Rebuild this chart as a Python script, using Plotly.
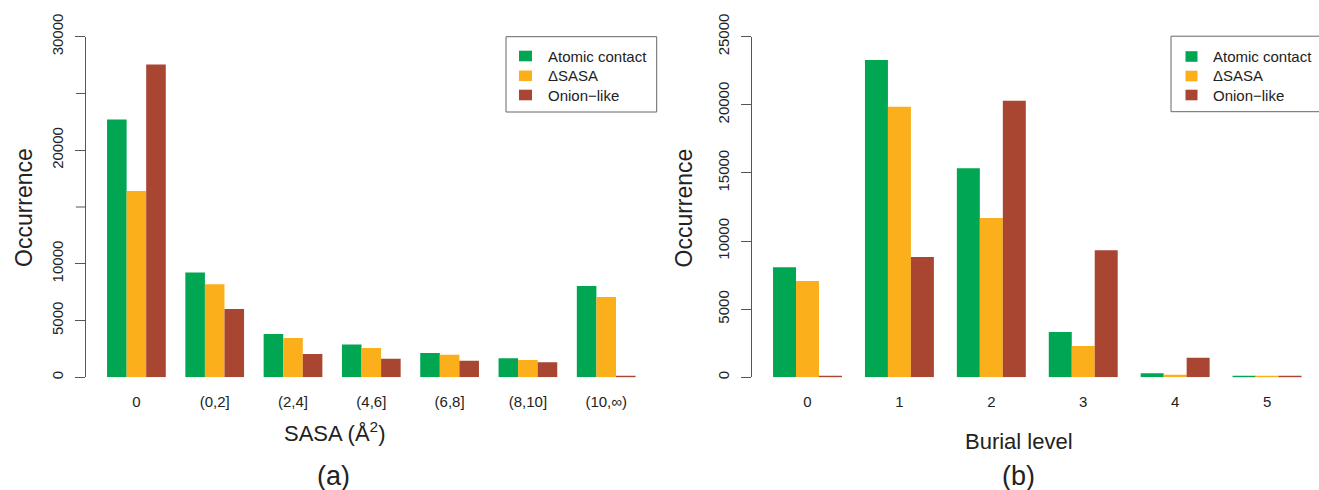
import plotly.graph_objects as go
from plotly.subplots import make_subplots

# Series names and colours
series_names = ["Atomic contact", "\u0394SASA", "Onion\u2212like"]
series_colors = ["#00A651", "#FAAF1B", "#A84631"]

# Panel (a): occurrence per SASA bin
sasa_bins = ["0", "(0,2]", "(2,4]", "(4,6]", "(6,8]", "(8,10]", "(10,\u221e)"]
atomic_sasa = [22700, 9220, 3810, 2900, 2140, 1670, 8040]
dsasa_sasa = [16400, 8190, 3460, 2580, 1990, 1520, 7070]
onion_sasa = [27550, 6010, 2050, 1640, 1460, 1320, 60]

# Panel (b): occurrence per burial level
burial_levels = ["0", "1", "2", "3", "4", "5"]
atomic_burial = [8080, 23290, 15350, 3330, 300, 95]
dsasa_burial = [7070, 19860, 11690, 2300, 190, 70]
onion_burial = [50, 8830, 20300, 9320, 1440, 90]

# Y ticks: labelled ticks plus unlabelled ones in panel (a)
ticks_a = [0, 5000, 10000, 20000, 30000]
ticklabels_a = ["0", "5000", "10000", "20000", "30000"]
unlabelled_ticks_a = [15000, 25000]
ticks_b = [0, 5000, 10000, 15000, 20000, 25000]
ticklabels_b = ["0", "5000", "10000", "15000", "20000", "25000"]

W, H = 1319, 490
FONT = "Liberation Sans, Arial, Helvetica, sans-serif"
TXT = "#222222"
LINE = "#555555"
AXIS_A_X = 85.9
TICK_LEN = 10


def px_x(v):
    return v / W


def px_y(v):
    return 1 - v / H


fig = make_subplots(rows=1, cols=2)

panel_a = [atomic_sasa, dsasa_sasa, onion_sasa]
panel_b = [atomic_burial, dsasa_burial, onion_burial]
for name, color, ya, yb in zip(series_names, series_colors, panel_a, panel_b):
    fig.add_trace(go.Bar(x=sasa_bins, y=ya, name=name, marker_color=color,
                         marker_line_width=0, showlegend=False), row=1, col=1)
    fig.add_trace(go.Bar(x=burial_levels, y=yb, name=name, marker_color=color,
                         marker_line_width=0, showlegend=False), row=1, col=2)

y_bottom = px_y(377.3)
y_top = px_y(36.7)

common_y = dict(showgrid=False, zeroline=False, showline=True, linecolor=LINE,
                linewidth=1, ticks="outside", ticklen=TICK_LEN, tickcolor=LINE,
                tickangle=-90, tickfont=dict(size=15, color=TXT, family=FONT),
                ticklabelstandoff=6, domain=[y_bottom, y_top])
common_x = dict(showgrid=False, zeroline=False, showline=False, ticks="",
                tickfont=dict(size=15, color=TXT, family=FONT),
                ticklabelstandoff=14)

fig.update_layout(
    xaxis=dict(common_x, domain=[px_x(AXIS_A_X), px_x(656.7)], range=[-0.645, 6.645]),
    xaxis2=dict(common_x, domain=[px_x(751.9), 1.0], range=[-0.605, 5.565]),
    yaxis=dict(common_y, range=[0, 30000], tickmode="array", tickvals=ticks_a,
               ticktext=ticklabels_a),
    yaxis2=dict(common_y, range=[0, 25000], tickmode="array", tickvals=ticks_b,
                ticktext=ticklabels_b),
)

# Unlabelled tick marks on the panel (a) y axis
for v in unlabelled_ticks_a:
    fig.add_shape(type="line", xref="paper", yref="y",
                  x0=px_x(AXIS_A_X - TICK_LEN), x1=px_x(AXIS_A_X), y0=v, y1=v,
                  line=dict(color=LINE, width=1))

# Legend boxes drawn as shapes and text, one per panel
legend_specs = [
    dict(x0=506, x1=656.7, y0=36.7, y1=112, sq0=519, sq1=532, text_x=545.5,
         rows=[56, 75.8, 95]),
    dict(x0=1171, x1=1323, y0=36.2, y1=111.7, sq0=1185.5, sq1=1197.5,
         text_x=1211, rows=[56.5, 76, 95]),
]
for spec in legend_specs:
    fig.add_shape(type="rect", xref="paper", yref="paper",
                  x0=px_x(spec["x0"]), x1=px_x(spec["x1"]),
                  y0=px_y(spec["y1"]), y1=px_y(spec["y0"]),
                  line=dict(color="#666666", width=1), fillcolor="white",
                  layer="above")
    for name, color, row in zip(series_names, series_colors, spec["rows"]):
        fig.add_shape(type="rect", xref="paper", yref="paper",
                      x0=px_x(spec["sq0"]), x1=px_x(spec["sq1"]),
                      y0=px_y(row + 5.3), y1=px_y(row - 5.3),
                      line=dict(width=0), fillcolor=color, layer="above")
        fig.add_annotation(text=name, x=px_x(spec["text_x"]), y=px_y(row),
                           xref="paper", yref="paper", xanchor="left",
                           yanchor="middle", showarrow=False,
                           font=dict(size=15, color=TXT, family=FONT))

annotations = [
    dict(text="Occurrence", x=23.5, y=207.5, textangle=-90, size=23),
    dict(text="Occurrence", x=683, y=207.5, textangle=-90, size=23),
    dict(text="SASA (\u00c5<sup>2</sup>)", x=334, y=432, textangle=0, size=22),
    dict(text="Burial level", x=1018.5, y=441, textangle=0, size=22),
    dict(text="(a)", x=333.7, y=475.5, textangle=0, size=27),
    dict(text="(b)", x=1018.4, y=475.5, textangle=0, size=27),
]
for a in annotations:
    fig.add_annotation(text=a["text"], x=px_x(a["x"]), y=px_y(a["y"]),
                       xref="paper", yref="paper", xanchor="center",
                       yanchor="middle", showarrow=False,
                       textangle=a["textangle"],
                       font=dict(size=a["size"], color=TXT, family=FONT))

fig.update_layout(
    width=W, height=H, barmode="group", bargap=0.25, bargroupgap=0,
    margin=dict(l=0, r=0, t=0, b=0, autoexpand=False),
    paper_bgcolor="white", plot_bgcolor="white",
    font=dict(family=FONT, color=TXT),
)

fig.write_html("out.html")
